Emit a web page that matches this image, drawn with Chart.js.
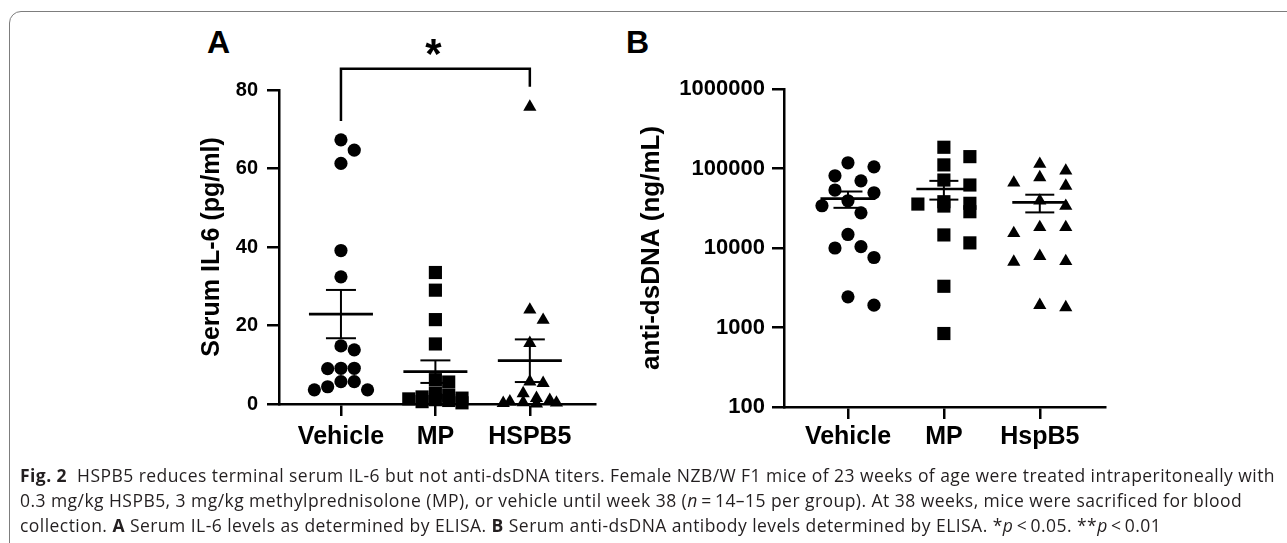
<!DOCTYPE html>
<html>
<head>
<meta charset="utf-8">
<script src="https://cdn.jsdelivr.net/npm/chart.js@4.4.0/dist/chart.umd.min.js"></script>
<style>
  html, body { margin: 0; padding: 0; background: #fff; }
  body { width: 1287px; height: 543px; position: relative; overflow: hidden; }
  .frame { position: absolute; left: 9px; top: 11px; width: 1300px; height: 545px;
           border: 1.5px solid #7d7d7d; border-radius: 12px; box-sizing: border-box; }
  .panel { position: absolute; top: 26px; font: bold 32px/1 "Liberation Sans", Arial, sans-serif; color: #000; }
  #wrapA { position: absolute; left: 150px; top: 0; width: 470px; height: 470px; }
  #wrapB { position: absolute; left: 620px; top: 0; width: 510px; height: 470px; }
  .caption { position: absolute; left: 20px; top: 463px; font: 17.5px/25px "Open Sans", sans-serif;
             letter-spacing: 0.45px; color: #231f20; white-space: nowrap; }
</style>
</head>
<body>
<div class="frame"></div>
<div class="panel" style="left:207px">A</div>
<div class="panel" style="left:626px">B</div>
<div id="wrapA"><canvas id="chartA" width="470" height="470"></canvas></div>
<div id="wrapB"><canvas id="chartB" width="510" height="470"></canvas></div>
<div class="caption">
  <div><b>Fig. 2</b>&nbsp; HSPB5 reduces terminal serum IL-6 but not anti-dsDNA titers. Female NZB/W F1 mice of 23 weeks of age were treated intraperitoneally with</div>
  <div>0.3 mg/kg HSPB5, 3 mg/kg methylprednisolone (MP), or vehicle until week 38 (<i>n</i>&#8201;=&#8201;14–15 per group). At 38 weeks, mice were sacrificed for blood</div>
  <div>collection. <b>A</b> Serum IL-6 levels as determined by ELISA. <b>B</b> Serum anti-dsDNA antibody levels determined by ELISA. *<i>p</i>&#8201;&lt;&#8201;0.05. **<i>p</i>&#8201;&lt;&#8201;0.01</div>
</div>
<script>
// Panel A: serum IL-6 (pg/ml)
const groupsA = ['Vehicle', 'MP', 'HSPB5'];
const il6Vehicle = [67.3, 64.7, 61.3, 39.1, 32.4, 14.8, 13.8, 9.1, 9.1, 9.0, 5.7, 5.7, 4.4, 3.6, 3.6];
const il6MP = [33.5, 29, 21.5, 15.3, 6.2, 5.6, 2.8, 2.2, 1.8, 1.5, 1.3, 1.1, 0.9, 0.6, 0.3];
const il6HSPB5 = [75.7, 24, 21.4, 15.5, 5.7, 5.3, 2.7, 1.5, 1.0, 0.6, 0.4, 0.3, 0.2, 0.1];
const il6Ticks = [0, 20, 40, 60, 80];

// Panel B: anti-dsDNA (ng/mL)
const groupsB = ['Vehicle', 'MP', 'HspB5'];
const dsdnaVehicle = [118000, 105000, 81000, 70000, 53600, 49500, 39300, 34000, 27700, 14800, 10400, 10000, 7600, 2430, 1910];
const dsdnaMP = [185000, 141000, 111000, 71600, 62000, 38200, 36500, 35700, 33700, 28600, 14600, 11600, 3300, 840];
const dsdnaHspB5 = [114000, 93700, 77400, 66200, 60300, 39300, 33700, 18200, 18200, 15300, 7900, 6800, 6700, 1910, 1790];
const dsdnaTicks = [100, 1000, 10000, 100000, 1000000];

Chart.defaults.font.family = '"Liberation Sans", Arial, sans-serif';
Chart.defaults.color = '#000';

const shapes = [
  { pointStyle: 'circle', pointRadius: 6.6 },
  { pointStyle: 'rect', pointRadius: 9.3 },
  { pointStyle: 'triangle', pointRadius: 7.6 }
];

function makeDatasets(groups, series) {
  return series.map((vals, g) => ({
    label: groups[g],
    values: vals,
    data: vals.map(v => ({ x: g, y: v })),
    pointStyle: shapes[g].pointStyle,
    pointRadius: shapes[g].pointRadius,
    pointHoverRadius: shapes[g].pointRadius,
    backgroundColor: '#000',
    borderColor: '#000',
    borderWidth: 0,
    clip: false
  }));
}

// mean with SEM whiskers, computed from the values
const meanSem = {
  id: 'meanSem',
  afterDatasetsDraw(chart, args, opts) {
    const { ctx, scales: { x, y } } = chart;
    const seg = (x1, y1, x2, y2) => { ctx.beginPath(); ctx.moveTo(x1, y1); ctx.lineTo(x2, y2); ctx.stroke(); };
    ctx.save();
    ctx.strokeStyle = '#000';
    chart.data.datasets.forEach((ds, g) => {
      const v = ds.values, n = v.length;
      const mean = v.reduce((a, b) => a + b, 0) / n;
      const sd = Math.sqrt(v.reduce((a, b) => a + (b - mean) ** 2, 0) / (n - 1));
      const sem = sd / Math.sqrt(n);
      const cx = x.getPixelForValue(g);
      const ym = y.getPixelForValue(mean);
      const yt = y.getPixelForValue(mean + sem);
      const yb = y.getPixelForValue(mean - sem);
      ctx.lineWidth = opts.barWidth;
      seg(cx, yt, cx, yb);
      seg(cx - opts.capHalf, yt, cx + opts.capHalf, yt);
      seg(cx - opts.capHalf, yb, cx + opts.capHalf, yb);
      ctx.lineWidth = opts.meanWidth;
      seg(cx - opts.meanHalf, ym, cx + opts.meanHalf, ym);
    });
    ctx.restore();
  }
};

// significance bracket between two groups
const bracket = {
  id: 'bracket',
  afterDraw(chart, args, opts) {
    if (!opts || !opts.label) return;
    const { ctx, scales: { x, y } } = chart;
    const x1 = x.getPixelForValue(opts.from), x2 = x.getPixelForValue(opts.to);
    const yTop = y.getPixelForValue(opts.top);
    ctx.save();
    ctx.strokeStyle = '#000';
    ctx.lineWidth = 2.5;
    ctx.beginPath();
    ctx.moveTo(x1, y.getPixelForValue(opts.fromEnd));
    ctx.lineTo(x1, yTop);
    ctx.lineTo(x2, yTop);
    ctx.lineTo(x2, y.getPixelForValue(opts.toEnd));
    ctx.stroke();
    ctx.fillStyle = '#000';
    ctx.font = 'bold 42px "Liberation Sans", Arial, sans-serif';
    ctx.textAlign = 'center';
    ctx.textBaseline = 'alphabetic';
    ctx.fillText(opts.label, (x1 + x2) / 2 - 2, yTop - 1);
    ctx.restore();
  }
};

// spread points sideways so they do not overlap (scatter dot plot)
function swarm(chart, step, rx, ry, maxOff) {
  const xs = chart.scales.x, ys = chart.scales.y;
  const unit = xs.getPixelForValue(1) - xs.getPixelForValue(0);
  chart.data.datasets.forEach((ds, g) => {
    const vals = ds.values;
    const order = vals.map((v, i) => i).sort((a, b) => vals[b] - vals[a]);
    const placed = [];
    const offs = vals.map(() => 0);
    order.forEach(i => {
      const py = ys.getPixelForValue(vals[i]);
      let best = 0, bestScore = Infinity;
      for (let k = 0; ; k++) {
        const dx = (k % 2 ? 1 : -1) * Math.ceil(k / 2) * step;
        if (Math.abs(dx) > maxOff) break;
        let score = 0;
        placed.forEach(p => {
          const d = ((p.x - dx) / rx) ** 2 + ((p.y - py) / ry) ** 2;
          if (d < 0.999) score += 1 - d;
        });
        if (score < bestScore) { bestScore = score; best = dx; }
        if (score === 0) break;
      }
      offs[i] = best;
      placed.push({ x: best, y: py });
    });
    ds.data = vals.map((v, i) => ({ x: g + offs[i] / unit, y: v }));
  });
  chart.update('none');
}

function axisStyle(tickLength) {
  return {
    grid: { drawOnChartArea: false, drawTicks: true, tickLength: tickLength, color: '#000', lineWidth: 2.5 },
    border: { color: '#000', width: 2.5 }
  };
}

const chartA = new Chart(document.getElementById('chartA'), {
  type: 'scatter',
  data: { datasets: makeDatasets(groupsA, [il6Vehicle, il6MP, il6HSPB5]) },
  options: {
    responsive: false,
    animation: false,
    events: [],
    layout: { padding: { top: 90, right: 25, bottom: 0, left: 0 } },
    plugins: {
      legend: { display: false },
      tooltip: { enabled: false },
      meanSem: { meanHalf: 32, capHalf: 15, meanWidth: 2.7, barWidth: 2 },
      bracket: { from: 0, to: 2, top: 85.4, fromEnd: 72.1, toEnd: 80.8, label: '*' }
    },
    scales: {
      x: {
        type: 'linear', min: -0.656, max: 2.69,
        afterBuildTicks: s => { s.ticks = groupsA.map((_, i) => ({ value: i })); },
        afterFit: s => { s.height = 66; },
        ticks: { callback: v => groupsA[v], font: { size: 25, weight: 'bold' }, padding: 6, autoSkip: false, maxRotation: 0 },
        ...axisStyle(12)
      },
      y: {
        min: 0, max: 80,
        afterBuildTicks: s => { s.ticks = il6Ticks.map(v => ({ value: v })); },
        afterFit: s => { s.width = 129; },
        ticks: { font: { size: 20, weight: 'bold' }, padding: 9 },
        title: { display: true, text: 'Serum IL-6 (pg/ml)', font: { size: 25, weight: 'bold' }, padding: { top: 47, bottom: 0 } },
        ...axisStyle(12)
      }
    }
  },
  plugins: [meanSem, bracket]
});

const chartB = new Chart(document.getElementById('chartB'), {
  type: 'scatter',
  data: { datasets: makeDatasets(groupsB, [dsdnaVehicle, dsdnaMP, dsdnaHspB5]) },
  options: {
    responsive: false,
    animation: false,
    events: [],
    layout: { padding: { top: 89, right: 25, bottom: 0, left: 0 } },
    plugins: {
      legend: { display: false },
      tooltip: { enabled: false },
      meanSem: { meanHalf: 27.5, capHalf: 14.5, meanWidth: 2.7, barWidth: 2 }
    },
    scales: {
      x: {
        type: 'linear', min: -0.667, max: 2.68,
        afterBuildTicks: s => { s.ticks = groupsB.map((_, i) => ({ value: i })); },
        afterFit: s => { s.height = 63; },
        ticks: { callback: v => groupsB[v], font: { size: 25, weight: 'bold' }, padding: 3, autoSkip: false, maxRotation: 0 },
        ...axisStyle(12)
      },
      y: {
        type: 'logarithmic', min: 100, max: 1000000,
        afterBuildTicks: s => { s.ticks = dsdnaTicks.map(v => ({ value: v })); },
        afterFit: s => { s.width = 164; },
        ticks: { callback: v => String(v), font: { size: 22, weight: 'bold' }, padding: 7 },
        title: { display: true, text: 'anti-dsDNA (ng/mL)', font: { size: 26, weight: 'bold' }, padding: { top: 16, bottom: 0 } },
        ...axisStyle(12)
      }
    }
  },
  plugins: [meanSem]
});

swarm(chartA, 6.65, 13.3, 13.3, 31);
swarm(chartB, 13, 22, 13.3, 26);
</script>
</body>
</html>
